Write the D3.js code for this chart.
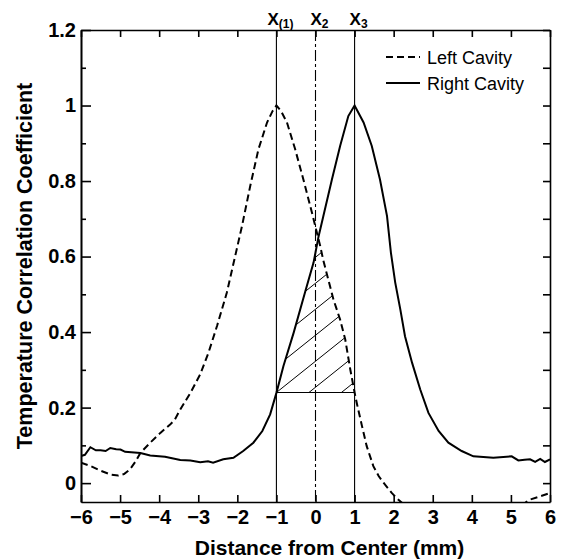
<!DOCTYPE html>
<html>
<head>
<meta charset="utf-8">
<script src="https://cdn.jsdelivr.net/npm/d3@7"></script>
<style>
  body { margin: 0; background: #fff; }
  svg { font-family: "Liberation Sans", Arial, Helvetica, sans-serif; }
</style>
</head>
<body>
<div id="chart"></div>
<script>
// dashed curve, [distance mm, correlation]
var leftCavity = [
  [-6, 0.054], [-5.75, 0.045], [-5.5, 0.033], [-5.25, 0.023], [-5.05, 0.020],
  [-4.9, 0.024], [-4.75, 0.036], [-4.6, 0.058], [-4.48, 0.080], [-4.23, 0.107],
  [-3.97, 0.133], [-3.72, 0.155], [-3.6, 0.168], [-3.46, 0.195], [-3.2, 0.239],
  [-2.95, 0.288], [-2.74, 0.345], [-2.52, 0.416], [-2.27, 0.504], [-2.08, 0.59],
  [-1.88, 0.681], [-1.67, 0.787], [-1.46, 0.884], [-1.24, 0.955], [-1.1, 0.985],
  [-1.0, 1.0], [-0.88, 0.985], [-0.73, 0.955], [-0.52, 0.884], [-0.31, 0.804],
  [-0.09, 0.716], [0.12, 0.628], [0.2, 0.59], [0.46, 0.486], [0.63, 0.433],
  [0.76, 0.381], [0.89, 0.301], [1.0, 0.24], [1.06, 0.21], [1.19, 0.151],
  [1.31, 0.098], [1.48, 0.045], [1.62, 0.018], [1.74, 0.001], [1.95, -0.026],
  [2.1, -0.042], [2.3, -0.06], [3, -0.09], [4, -0.1], [5, -0.08],
  [5.3, -0.058], [5.45, -0.045], [5.75, -0.035], [6, -0.026]
];

// solid curve
var rightCavity = [
  [-6, 0.072], [-5.9, 0.075], [-5.76, 0.095], [-5.62, 0.087], [-5.5, 0.087],
  [-5.37, 0.085], [-5.25, 0.093], [-5.1, 0.09], [-4.99, 0.089], [-4.87, 0.083],
  [-4.48, 0.080], [-4.23, 0.073], [-3.85, 0.070], [-3.46, 0.061], [-3.2, 0.060],
  [-2.95, 0.055], [-2.75, 0.058], [-2.62, 0.054], [-2.36, 0.063], [-2.1, 0.067],
  [-1.85, 0.085], [-1.59, 0.107], [-1.36, 0.138], [-1.16, 0.182], [-1.0, 0.239],
  [-0.82, 0.31], [-0.56, 0.398], [-0.26, 0.508], [-0.05, 0.584], [0.08, 0.654],
  [0.2, 0.707], [0.42, 0.804], [0.63, 0.893], [0.84, 0.972], [1.0, 1.0],
  [1.23, 0.955], [1.44, 0.893], [1.65, 0.804], [1.83, 0.707], [1.93, 0.61],
  [2.04, 0.531], [2.17, 0.46], [2.29, 0.389], [2.47, 0.319], [2.68, 0.248],
  [2.89, 0.186], [3.15, 0.138], [3.4, 0.107], [3.74, 0.085], [4.04, 0.071],
  [4.55, 0.067], [5.02, 0.071], [5.19, 0.060], [5.35, 0.062], [5.49, 0.063],
  [5.62, 0.056], [5.75, 0.064], [5.87, 0.056], [6, 0.063]
];

var markerPos = [-1, 0, 1];
var markerSubs = ['(1)', '2', '3'];
var hatchBase = 0.24;

var xTicks = [-6, -5, -4, -3, -2, -1, 0, 1, 2, 3, 4, 5, 6];
var yTicks = [0, 0.2, 0.4, 0.6, 0.8, 1, 1.2];
var yMinorTicks = [0.1, 0.3, 0.5, 0.7, 0.9, 1.1];

var margin = { top: 30, left: 81, right: 12, bottom: 58 },
    W = 562, H = 560,
    width = W - margin.left - margin.right,
    height = H - margin.top - margin.bottom;

var svg = d3.select('#chart').append('svg')
            .attr('width', W)
            .attr('height', H);

var g = svg.append('g')
           .attr('transform', 'translate(' + margin.left + ',' + margin.top + ')');

var x = d3.scaleLinear().domain([-6, 6]).range([0, width]),
    y = d3.scaleLinear().domain([-0.05, 1.2]).range([height, 0]);

function interp(s, xv) {
  var i = d3.bisector(function(d) { return d[0]; }).left(s, xv);
  if (i <= 0) return s[0][1];
  if (i >= s.length) return s[s.length - 1][1];
  var a = s[i - 1], b = s[i], t = (xv - a[0]) / (b[0] - a[0]);
  return a[1] + t * (b[1] - a[1]);
}

var defs = svg.append('defs');
defs.append('clipPath').attr('id', 'plot')
    .append('rect').attr('width', width).attr('height', height);

// hatched area: under both curves, above hatchBase, between markers
var hatchArea = d3.area()
  .x(function(d) { return x(d); })
  .y0(y(hatchBase))
  .y1(function(d) { return y(Math.max(hatchBase, Math.min(interp(leftCavity, d), interp(rightCavity, d)))); });

defs.append('clipPath').attr('id', 'hatch')
    .append('path').attr('d', hatchArea(d3.range(-1, 1.0001, 0.005)));

// marker lines
g.selectAll('.marker')
  .data(markerPos)
  .enter()
    .append('line')
    .attr('class', 'marker')
    .attr('x1', function(d) { return x(d); })
    .attr('x2', function(d) { return x(d); })
    .attr('y1', 0)
    .attr('y2', height)
    .attr('stroke', '#000')
    .attr('stroke-width', 1.1)
    .attr('stroke-dasharray', function(d) { return d === 0 ? '11,3,3,3' : null; });

// hatch lines
var hx0 = x(-1), hy0 = y(hatchBase), slope = 0.8, gap = 26;
g.append('g')
  .attr('clip-path', 'url(#hatch)')
  .selectAll('line')
  .data(d3.range(-6, 4))
  .enter()
    .append('line')
    .attr('x1', hx0 - 10)
    .attr('y1', function(k) { return hy0 + slope * 10 + k * gap; })
    .attr('x2', x(1) + 10)
    .attr('y2', function(k) { return hy0 - slope * (x(1) + 10 - hx0) + k * gap; })
    .attr('stroke', '#000')
    .attr('stroke-width', 1);

g.append('line')
  .attr('x1', x(-1)).attr('x2', x(1))
  .attr('y1', y(hatchBase)).attr('y2', y(hatchBase))
  .attr('stroke', '#000')
  .attr('stroke-width', 1.1);

// curves
var line = d3.line()
  .x(function(d) { return x(d[0]); })
  .y(function(d) { return y(d[1]); });

var curves = g.append('g').attr('clip-path', 'url(#plot)');

curves.append('path')
  .datum(leftCavity)
  .attr('d', line)
  .attr('fill', 'none')
  .attr('stroke', '#000')
  .attr('stroke-width', 2)
  .attr('stroke-dasharray', '7,4');

curves.append('path')
  .datum(rightCavity)
  .attr('d', line)
  .attr('fill', 'none')
  .attr('stroke', '#000')
  .attr('stroke-width', 2);

// axes, ticks pointing inward
function fmt(d) {
  var s = String(+d.toFixed(1));
  return d < 0 ? '\u2212' + s.slice(1) : s;
}

function styleAxis(sel) {
  sel.selectAll('path, line').attr('stroke', '#000').attr('stroke-width', 1.6);
  sel.selectAll('text').attr('fill', '#000').attr('font-size', 20).attr('font-weight', 'bold');
}

g.append('g')
  .attr('transform', 'translate(0,' + height + ')')
  .call(d3.axisBottom(x).tickValues(xTicks).tickSize(-7).tickSizeOuter(0).tickPadding(8).tickFormat(fmt))
  .call(styleAxis);

g.append('g')
  .call(d3.axisTop(x).tickValues(xTicks).tickSize(-7).tickSizeOuter(0).tickFormat(''))
  .call(styleAxis);

g.append('g')
  .call(d3.axisLeft(y).tickValues(yTicks).tickSize(-10).tickSizeOuter(0).tickPadding(5).tickFormat(fmt))
  .call(styleAxis);

g.append('g')
  .call(d3.axisLeft(y).tickValues(yMinorTicks).tickSize(-5).tickSizeOuter(0).tickFormat(''))
  .call(styleAxis);

g.append('g')
  .attr('transform', 'translate(' + width + ',0)')
  .call(d3.axisRight(y).tickValues(yTicks.concat(yMinorTicks)).tickSize(-7).tickSizeOuter(0).tickFormat(''))
  .call(styleAxis);

// marker labels above the frame
var ml = g.selectAll('.mlabel')
  .data(markerPos)
  .enter()
    .append('text')
    .attr('class', 'mlabel')
    .attr('x', function(d) { return x(d) + 4; })
    .attr('y', -5)
    .attr('text-anchor', 'middle')
    .attr('font-size', 17)
    .attr('font-weight', 'bold');
ml.append('tspan').text('X');
ml.append('tspan')
  .attr('font-size', 12)
  .attr('dy', 3)
  .text(function(d, i) { return markerSubs[i]; });

// legend
var legend = svg.append('g').attr('transform', 'translate(386,57)');
var items = [{ name: 'Left Cavity', dash: '7,4' }, { name: 'Right Cavity', dash: null }];
var li = legend.selectAll('g')
  .data(items)
  .enter()
    .append('g')
    .attr('transform', function(d, i) { return 'translate(0,' + i * 26 + ')'; });
li.append('line')
  .attr('x1', 0).attr('x2', 34)
  .attr('stroke', '#000')
  .attr('stroke-width', 2)
  .attr('stroke-dasharray', function(d) { return d.dash; });
li.append('text')
  .attr('x', 41)
  .attr('y', 7)
  .attr('font-size', 18)
  .text(function(d) { return d.name; });

// axis titles
svg.append('text')
  .attr('x', margin.left + width / 2 + 14)
  .attr('y', 555)
  .attr('text-anchor', 'middle')
  .attr('font-size', 21)
  .attr('font-weight', 'bold')
  .text('Distance from Center (mm)');

svg.append('text')
  .attr('transform', 'translate(32,' + (margin.top + height / 2) + ') rotate(-90)')
  .attr('text-anchor', 'middle')
  .attr('font-size', 21.5)
  .attr('font-weight', 'bold')
  .text('Temperature Correlation Coefficient');
</script>
</body>
</html>
